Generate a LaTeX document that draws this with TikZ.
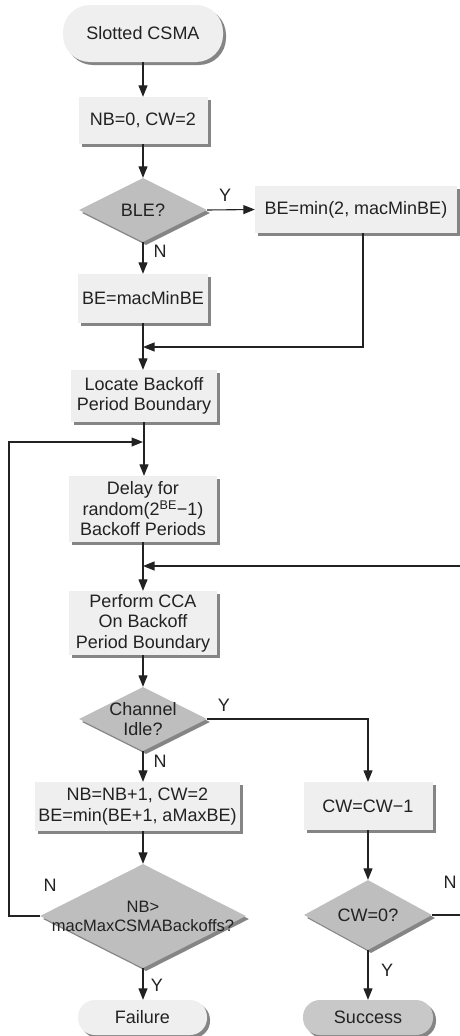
\documentclass[tikz,border=0pt]{standalone}
\usepackage{fontspec}
\setmainfont{Liberation Sans}
\usetikzlibrary{arrows.meta,shapes.geometric,shadows,calc}
\definecolor{boxfill}{HTML}{EFEFEF}
\definecolor{decfill}{HTML}{BEBEBE}
\definecolor{endfill}{HTML}{C8C8C8}
\definecolor{shade}{HTML}{858585}
\definecolor{ink}{HTML}{222222}
\begin{document}
\begin{tikzpicture}[x=1pt,y=-1pt,
  base/.style={font=\fontsize{18}{20.5}\selectfont, text=ink, inner sep=0pt, align=center},
  shad/.style={drop shadow={shadow xshift=3pt, shadow yshift=-3pt, fill=shade, opacity=1}},
  proc/.style={base, rectangle, fill=boxfill, shad},
  dec/.style={base, diamond, fill=decfill, shad},
  term/.style={base, rectangle, rounded corners=#1, fill=boxfill, shad},
  lab/.style={font=\fontsize{18}{20}\selectfont, text=ink, inner sep=0pt},
  line/.style={draw=ink, line width=1.1pt},
  arr/.style={line, -{Triangle[length=11.5pt,width=9pt]}}]
\useasboundingbox (0,0) rectangle (459,1036);

% blocks of the procedure
\node[term=27pt, minimum width=160pt, minimum height=57pt] (start) at (143,33.5) {Slotted CSMA};
\node[proc, minimum width=129pt, minimum height=47pt] (init) at (143,120.5) {NB=0, CW=2};
\node[dec, minimum width=128pt, minimum height=64pt, label={[base]center:BLE?}] (ble) at (143,210) {};
\node[proc, minimum width=202pt, minimum height=47pt] (bemin2) at (356,209.5) {BE=min(2, macMinBE)};
\node[proc, minimum width=130pt, minimum height=49pt] (bemac) at (143,298.5) {BE=macMinBE};
\node[proc, minimum width=146pt, minimum height=52pt] (locate) at (144,396) {Locate Backoff\\Period Boundary};
\node[proc, minimum width=148pt, minimum height=66pt] (delay) at (143,509) {Delay for\\random(2\textsuperscript{BE}−1)\\Backoff Periods};
\node[proc, minimum width=148pt, minimum height=64pt] (perform) at (143,623) {Perform CCA\\On Backoff\\Period Boundary};
\node[dec, minimum width=128pt, minimum height=64pt, label={[base]center:Channel\\Idle?}] (idle) at (143,719) {};
\node[proc, minimum width=205pt, minimum height=49pt] (nbinc) at (137.5,806.5) {NB=NB+1, CW=2\\BE=min(BE+1, aMaxBE)};
\node[proc, minimum width=129pt, minimum height=48pt] (cwdec) at (368,806) {CW=CW−1};
\node[dec, minimum width=206pt, minimum height=104pt, label={[base, font=\fontsize{16.5}{19}\selectfont]center:NB>\\macMaxCSMABackoffs?}] (nbmax) at (143,916) {};
\node[dec, minimum width=128pt, minimum height=70pt, label={[base]center:CW=0?}] (cw0) at (368,915) {};
\node[term=17pt, minimum width=129pt, minimum height=35pt] (fail) at (142.5,1017.5) {Failure};
\node[term=17pt, fill=endfill, minimum width=130pt, minimum height=35pt] (succ) at (368,1017.5) {Success};

% joints where loops rejoin the main flow
\coordinate (m1) at (143,347);
\coordinate (m2) at (143,442);
\coordinate (m3) at (143,566);
\coordinate (lx) at (9,0);
\coordinate (rx) at (461,0);

% connectors
\draw[arr] (start.south) -- (start.south |- init.north);
\draw[arr] (init.south) -- (init.south |- ble.north);
\draw[arr] (ble.east) -- (bemin2.west);
\draw[arr] (ble.south) -- (ble.south |- bemac.north);
\draw[arr] ([xshift=7pt]bemin2.south) |- (m1);
\draw[arr] (bemac.south) -- (bemac.south |- locate.north);
\draw[arr] (locate.south) -- (locate.south |- delay.north);
\draw[arr] (nbmax.west) -| (lx |- m2) -- (m2);
\draw[arr] (delay.south) -- (delay.south |- perform.north);
\draw[arr] (cw0.east) -| (rx |- m3) -- (m3);
\draw[arr] (perform.south) -- (perform.south |- idle.north);
\draw[arr] (idle.east) -| (cwdec.north);
\draw[arr] (idle.south) -- (idle.south |- nbinc.north);
\draw[arr] (nbmax.north |- nbinc.south) -- (nbmax.north);
\draw[arr] (cwdec.south) -- (cw0.north);
\draw[arr] (nbmax.south) -- (nbmax.south |- fail.north);
\draw[arr] (cw0.south) -- (cw0.south |- succ.north);

% branch labels
\node[lab] (y1) at (225,195) {Y};
\node[lab] (n1) at (160,251) {N};
\node[lab] (y2) at (224,705) {Y};
\node[lab] (n2) at (160,761) {N};
\node[lab] (n3) at (50,885) {N};
\node[lab] (y3) at (157,985) {Y};
\node[lab] (n4) at (450,882) {N};
\node[lab] (y4) at (387,970) {Y};
\end{tikzpicture}
\end{document}
